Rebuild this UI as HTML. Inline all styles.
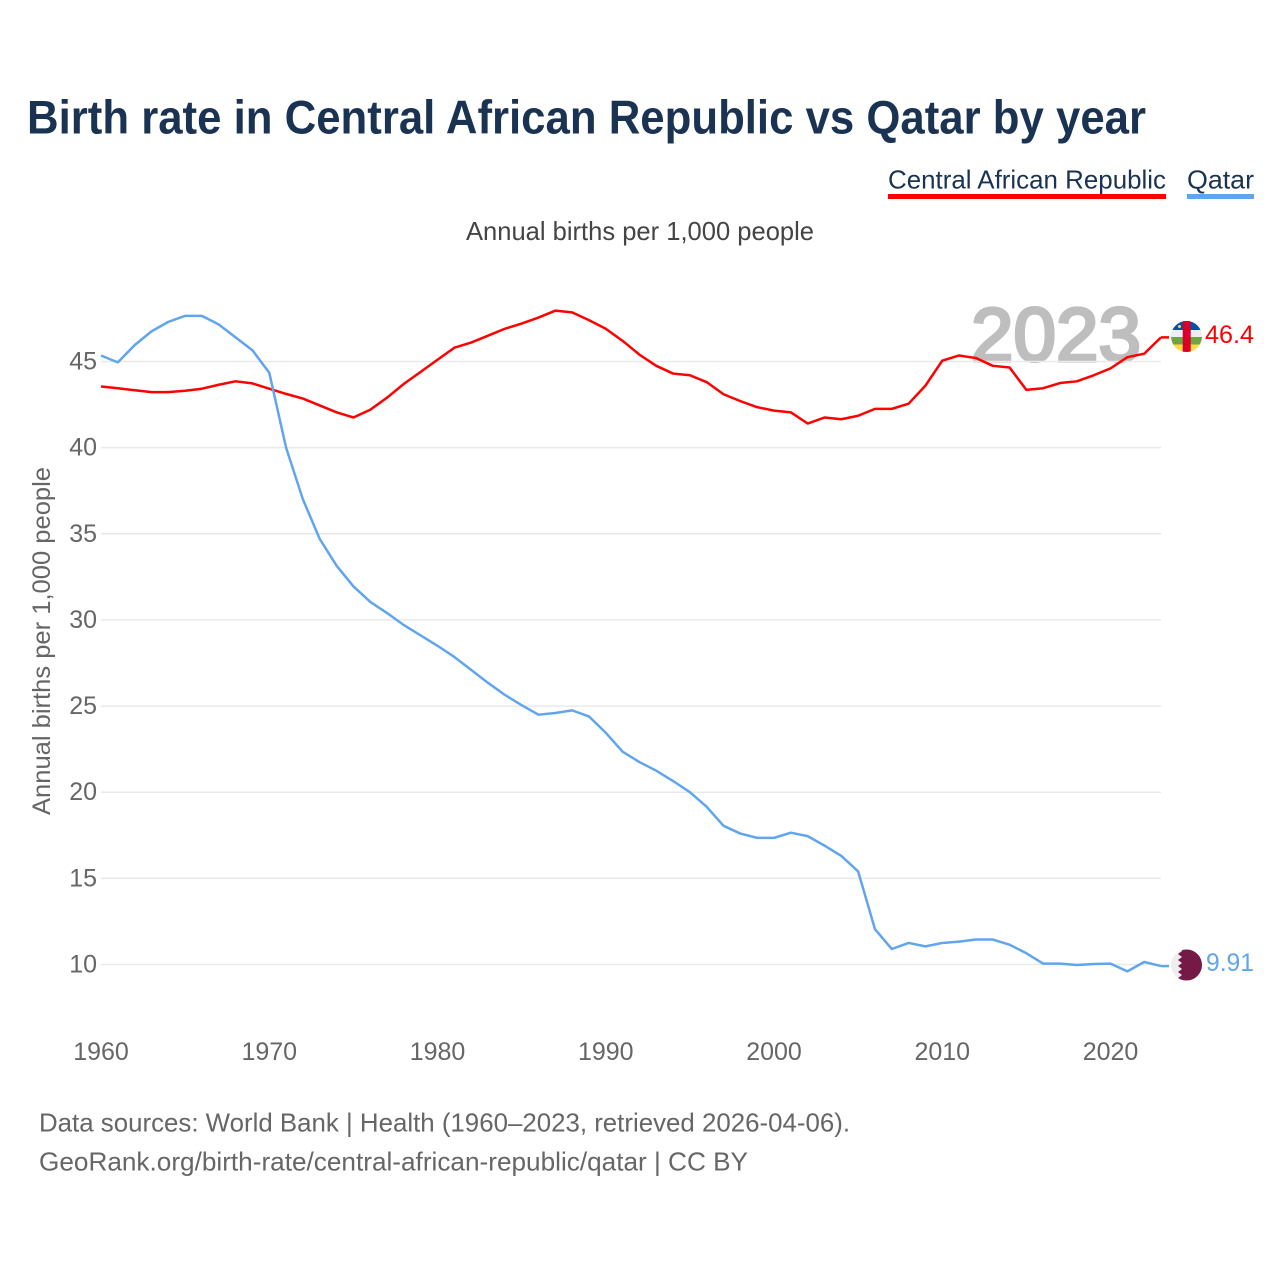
<!DOCTYPE html>
<html lang="en">
<head>
<meta charset="utf-8">
<title>Birth rate in Central African Republic vs Qatar by year</title>
<style>
html,body{margin:0;padding:0;background:#fff;width:1280px;height:1280px;overflow:hidden}
svg{display:block;font-family:"Liberation Sans",sans-serif}
</style>
</head>
<body>
<svg id="chart" width="1280" height="1280" viewBox="0 0 1280 1280">
  <defs>
    <clipPath id="flag-clip-car"><circle cx="1186.5" cy="336.5" r="15.5"/></clipPath>
    <clipPath id="flag-clip-qatar"><circle cx="1186.5" cy="965" r="15.5"/></clipPath>
  </defs>
  <rect width="1280" height="1280" fill="#fff"/>
  <text x="27" y="133.5" font-size="47" font-weight="700" fill="#1a3352" textLength="1119" lengthAdjust="spacingAndGlyphs">Birth rate in Central African Republic vs Qatar by year</text>

  <g>
    <text x="888" y="188.5" font-size="26" fill="#1a3352" textLength="278" lengthAdjust="spacingAndGlyphs">Central African Republic</text>
    <rect x="888" y="194" width="278" height="5" fill="#ff0000"/>
  </g>
  <g>
    <text x="1187" y="188.5" font-size="26" fill="#1a3352" textLength="67" lengthAdjust="spacingAndGlyphs">Qatar</text>
    <rect x="1187" y="194" width="67" height="5" fill="#60a5ee"/>
  </g>

  <text x="466" y="240" font-size="26" fill="#444" textLength="348" lengthAdjust="spacingAndGlyphs">Annual births per 1,000 people</text>

  <text x="971" y="361" font-size="76" font-weight="400" fill="#bebebe" stroke="#bebebe" stroke-width="3.2" textLength="170" lengthAdjust="spacingAndGlyphs">2023</text>

  <g id="grid"></g>
  <g id="y-axis"></g>
  <g id="x-axis"></g>

  <text transform="translate(50,815) rotate(-90)" x="0" y="0" font-size="25" fill="#666" textLength="348" lengthAdjust="spacingAndGlyphs">Annual births per 1,000 people</text>

  <g id="series"></g>

  <g clip-path="url(#flag-clip-car)">
    <rect x="1171" y="321" width="31" height="9" fill="#0a4fa8"/>
    <rect x="1171" y="330" width="31" height="7" fill="#eeeeee"/>
    <rect x="1171" y="337" width="31" height="7.5" fill="#6da544"/>
    <rect x="1171" y="344.5" width="31" height="8" fill="#ffda44"/>
    <rect x="1182.7" y="321" width="8" height="31" fill="#d80027"/>
    <circle cx="1179.5" cy="326.5" r="1.5" fill="#ffda44"/>
  </g>
  <g clip-path="url(#flag-clip-qatar)">
    <rect x="1171" y="949" width="31" height="32" fill="#eeeeee"/>
    <polygon points="1182,949 1202,949 1202,981 1182,981 1178,978 1182,975 1178,972 1182,969 1178,966 1182,963 1178,960 1182,957 1178,954 1182,951" fill="#751a46"/>
  </g>

  <text x="1205" y="343" font-size="25" fill="#ff0000" textLength="49" lengthAdjust="spacingAndGlyphs">46.4</text>
  <text x="1206" y="971" font-size="25" fill="#60a5ee" textLength="48" lengthAdjust="spacingAndGlyphs">9.91</text>

  <text x="39" y="1131.5" font-size="26" fill="#666" textLength="811" lengthAdjust="spacingAndGlyphs">Data sources: World Bank | Health (1960–2023, retrieved 2026-04-06).</text>
  <text x="39" y="1170.5" font-size="26" fill="#666" textLength="709" lengthAdjust="spacingAndGlyphs">GeoRank.org/birth-rate/central-african-republic/qatar | CC BY</text>
</svg>
<script>
const startYear = 1960;
const xTickYears = [1960, 1970, 1980, 1990, 2000, 2010, 2020];
const yTickValues = [10, 15, 20, 25, 30, 35, 40, 45];
const carValues = [43.55,43.45,43.33,43.22,43.22,43.3,43.42,43.65,43.85,43.73,43.42,43.12,42.85,42.45,42.05,41.75,42.2,42.9,43.7,44.4,45.1,45.8,46.1,46.5,46.9,47.2,47.55,47.95,47.85,47.4,46.9,46.2,45.4,44.75,44.3,44.2,43.8,43.1,42.7,42.35,42.15,42.05,41.4,41.75,41.65,41.85,42.25,42.25,42.55,43.6,45.05,45.35,45.2,44.75,44.65,43.35,43.45,43.75,43.85,44.2,44.6,45.25,45.45,46.4];
const qatarValues = [45.35,44.95,45.95,46.75,47.3,47.65,47.65,47.15,46.4,45.65,44.35,40,37,34.7,33.15,31.95,31.05,30.4,29.7,29.1,28.5,27.85,27.1,26.35,25.65,25.05,24.5,24.6,24.75,24.4,23.45,22.35,21.75,21.25,20.65,20,19.15,18.05,17.6,17.35,17.35,17.65,17.45,16.9,16.3,15.4,12.05,10.9,11.25,11.05,11.25,11.33,11.45,11.45,11.15,10.65,10.05,10.05,9.97,10.03,10.05,9.6,10.15,9.91];

const NS = 'http://www.w3.org/2000/svg';
function xScale(year) { return 101 + (year - 1960) * (1060 / 63); }
function yScale(value) { return 964.5 - (value - 10) * (603 / 35); }
function make(tag, attrs, parent) {
  const el = document.createElementNS(NS, tag);
  for (const k in attrs) el.setAttribute(k, attrs[k]);
  parent.appendChild(el);
  return el;
}

const gridGroup = document.getElementById('grid');
const yAxisGroup = document.getElementById('y-axis');
const xAxisGroup = document.getElementById('x-axis');
const seriesGroup = document.getElementById('series');

yTickValues.forEach(function (v) {
  const line = make('line', { x1: 101, x2: 1161, y1: yScale(v), y2: yScale(v), stroke: '#e9e9e9', 'stroke-width': 1.5 }, gridGroup);
  
  
  const label = make('text', { x: 97, y: yScale(v) + 8, 'text-anchor': 'end', 'font-size': 25, fill: '#666' }, yAxisGroup);
  label.textContent = String(v);
  
  
});

xTickYears.forEach(function (y) {
  const label = make('text', { x: xScale(y), y: 1060, 'text-anchor': 'middle', 'font-size': 25, fill: '#666' }, xAxisGroup);
  label.textContent = String(y);
  
  
});

function drawSeries(values, color, name) {
  const d = values.map(function (v, i) {
    return (i ? 'L' : 'M') + xScale(startYear + i).toFixed(2) + ' ' + yScale(v).toFixed(2);
  }).join(' ');
  const path = make('path', { d: d, fill: 'none', stroke: color, 'stroke-width': 2.5, 'stroke-linejoin': 'round' }, seriesGroup);
  
  
  const lastY = yScale(values[values.length - 1]);
  const stub = make('line', { x1: xScale(startYear + values.length - 1), x2: 1169, y1: lastY, y2: lastY, stroke: color, 'stroke-width': 2.5 }, seriesGroup);
  
  
}
drawSeries(carValues, '#ff0000', 'central-african-republic');
drawSeries(qatarValues, '#60a5ee', 'qatar');
</script>
</body>
</html>
